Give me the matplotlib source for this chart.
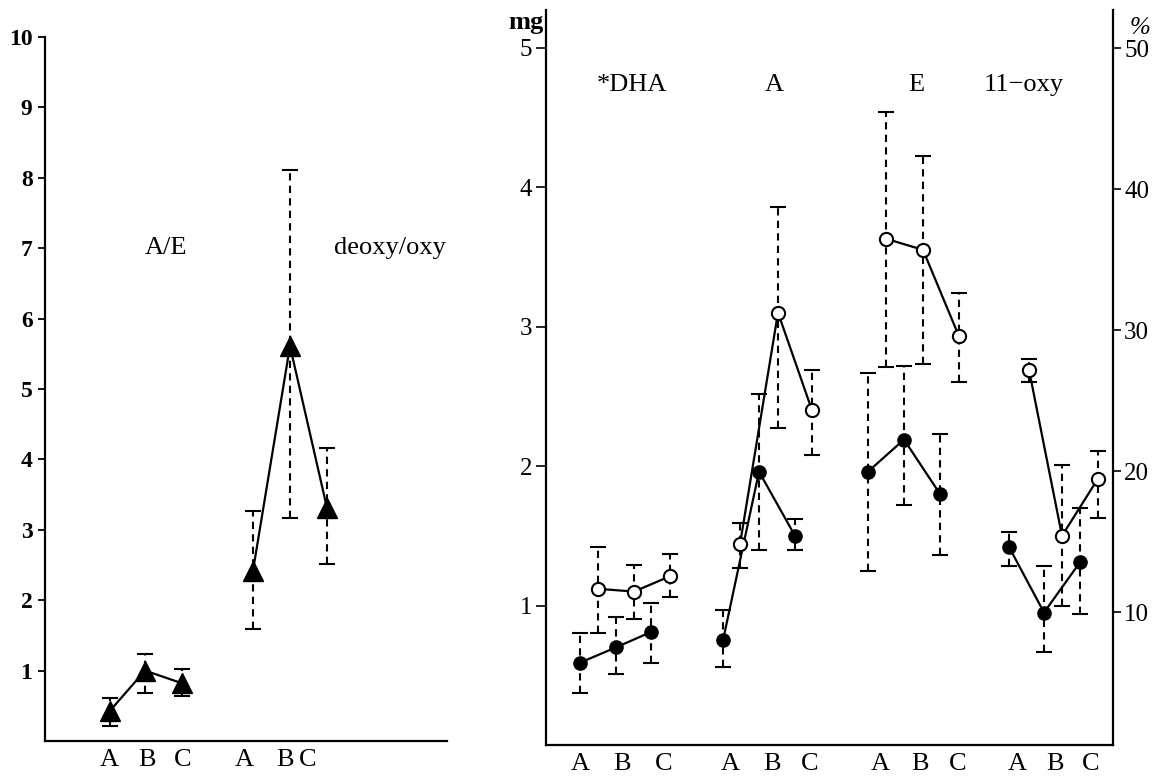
"""Recreation of the scanned steroid ratio / excretion chart."""

import matplotlib.pyplot as plt
import numpy as np

plt.rcParams["font.family"] = ["Liberation Serif", "DejaVu Serif"]

# ---- data -----------------------------------------------------------------
cond_labels = ["A", "B", "C"]

# left panel: ratios
ratio_names = ["A/E", "deoxy/oxy"]
ae_mean = [0.43, 1.00, 0.82]
ae_low = [0.22, 0.68, 0.64]
ae_high = [0.61, 1.23, 1.02]
deoxy_mean = [2.42, 5.61, 3.31]
deoxy_low = [1.59, 3.17, 2.51]
deoxy_high = [3.26, 8.11, 4.16]

# right panel: four steroid groups, three conditions each (mg)
steroid_names = ["*DHA", "A", "E", "11−oxy"]
filled_mean = [[0.59, 0.70, 0.81], [0.75, 1.96, 1.50], [1.96, 2.19, 1.80], [1.42, 0.95, 1.31]]
filled_low = [[0.37, 0.51, 0.59], [0.56, 1.40, 1.40], [1.25, 1.72, 1.36], [1.28, 0.67, 0.94]]
filled_high = [[0.80, 0.92, 1.02], [0.97, 2.52, 1.62], [2.67, 2.72, 2.23], [1.53, 1.28, 1.70]]
open_mean = [[1.12, 1.10, 1.21], [1.44, 3.10, 2.40], [3.63, 3.55, 2.93], [2.69, 1.50, 1.91]]
open_low = [[0.80, 0.90, 1.06], [1.27, 2.27, 2.08], [2.71, 2.73, 2.60], [2.60, 1.00, 1.63]]
open_high = [[1.42, 1.29, 1.37], [1.59, 3.86, 2.69], [4.54, 4.22, 3.24], [2.77, 2.01, 2.11]]

# ---- layout (x in pixel-like units from each panel's left spine) ----------
left_pts_x = [[65, 100, 137], [208, 245, 282]]
left_lbl_x = [64, 102, 138, 199, 240, 263]
left_txt_x = [121, 345]

right_filled_x = [[34, 70, 105], [177, 213, 249], [322, 358, 394], [463, 498, 534]]
right_open_x = [[52, 88, 124], [194, 232, 266], [340, 377, 413], [483, 516, 552]]
right_lbl_x = [34, 76, 118, 184, 226, 264, 334, 374, 412, 471, 509, 545]
right_txt_x = [86, 228, 370, 478]

DASH = (0, (3.5, 2.5))
LW = 1.6
FS = 19


def draw_series(ax, x, mean, low, high, **marker_kw):
    mean = np.asarray(mean)
    yerr = [mean - np.asarray(low), np.asarray(high) - mean]
    eb = ax.errorbar(x, mean, yerr=yerr, fmt="none", ecolor="black",
                     elinewidth=1.5, capsize=6, capthick=1.5, zorder=2)
    eb[2][0].set_linestyle(DASH)
    ax.plot(x, mean, color="black", lw=LW, zorder=3)
    ax.plot(x, mean, linestyle="none", zorder=4, **marker_kw)


W, H = 1157, 781
fig = plt.figure(figsize=(W / 100, H / 100), dpi=100)

# ---- left panel -------------------------------------------------------------
ax1 = fig.add_axes([45 / W, 1 - 741 / H, 402 / W, 704 / H])
ax1.set_xlim(0, 402)
ax1.set_ylim(0, 10)
for (m, lo, hi), xs in zip([(ae_mean, ae_low, ae_high),
                            (deoxy_mean, deoxy_low, deoxy_high)], left_pts_x):
    draw_series(ax1, xs, m, lo, hi, marker="^", ms=14, color="black")
for name, tx in zip(ratio_names, left_txt_x):
    ax1.text(tx, 7.0, name, ha="center", va="center", fontsize=FS)
ax1.set_yticks(range(1, 11))
ax1.set_yticklabels([str(v) for v in range(1, 11)], fontsize=17, fontweight="bold")
ax1.set_xticks(left_lbl_x)
ax1.set_xticklabels(cond_labels * 2, fontsize=FS)
ax1.tick_params(axis="x", length=0, pad=6)
ax1.tick_params(axis="y", length=5, width=1.3, pad=4)
for s in ["top", "right"]:
    ax1.spines[s].set_visible(False)
for s in ["left", "bottom"]:
    ax1.spines[s].set_linewidth(1.6)

# ---- right panel ------------------------------------------------------------
ax2 = fig.add_axes([546 / W, 1 - 745 / H, 567 / W, 735 / H])
ax2.set_xlim(0, 567)
ax2.set_ylim(0, 5.27)
for g in range(len(steroid_names)):
    draw_series(ax2, right_filled_x[g], filled_mean[g], filled_low[g], filled_high[g],
                marker="o", ms=9.5, color="black")
    draw_series(ax2, right_open_x[g], open_mean[g], open_low[g], open_high[g],
                marker="o", ms=9.5, mfc="white", mec="black", mew=1.5)
for name, tx in zip(steroid_names, right_txt_x):
    ax2.text(tx, 4.73, name, ha="center", va="center", fontsize=FS)
ax2.text(-20, 5.18, "mg", ha="center", va="center", fontsize=FS,
         fontweight="bold", clip_on=False)
ax2.text(594, 5.14, "%", ha="center", va="center", fontsize=FS - 1,
         style="italic", clip_on=False)
ax2.set_yticks(range(1, 6))
ax2.set_yticklabels([str(v) for v in range(1, 6)], fontsize=18)
ax2.set_xticks(right_lbl_x)
ax2.set_xticklabels(cond_labels * 4, fontsize=FS)
ax2.tick_params(axis="x", length=0, pad=6)
ax2.tick_params(axis="y", length=7, width=1.2, pad=3)
ax2.spines["top"].set_visible(False)
ax2.spines["right"].set_visible(False)
for s in ["left", "bottom"]:
    ax2.spines[s].set_linewidth(1.6)

ax3 = ax2.twinx()
ax3.set_ylim(0.57, 52.7)
ax3.set_yticks([10, 20, 30, 40, 50])
ax3.set_yticklabels(["10", "20", "30", "40", "50"], fontsize=18)
ax3.tick_params(axis="y", length=6, width=1.2, pad=2)
for s in ["top", "left", "bottom"]:
    ax3.spines[s].set_visible(False)
ax3.spines["right"].set_linewidth(1.6)

fig.savefig("out.png", dpi=100)
plt.close(fig)
